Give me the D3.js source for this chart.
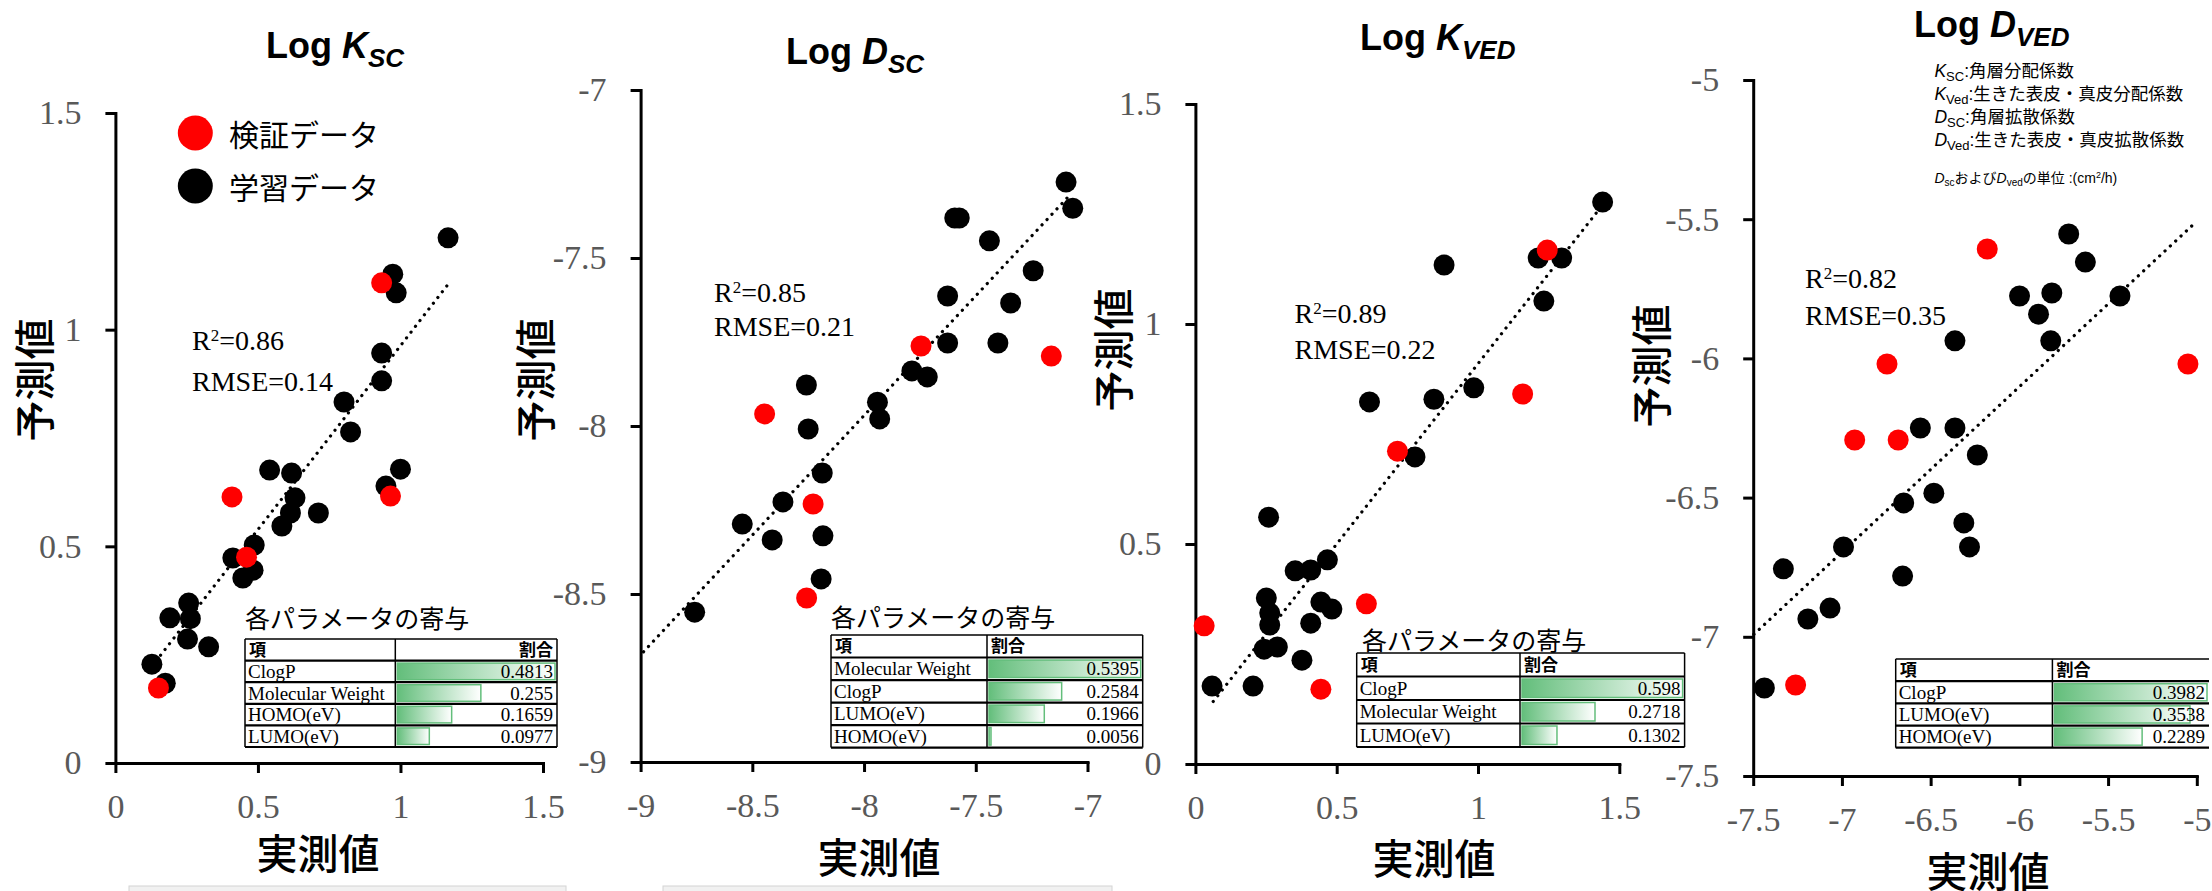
<!DOCTYPE html>
<html>
<head>
<meta charset="utf-8">
<script src="https://cdn.jsdelivr.net/npm/d3@7"></script>
<style>
  body { margin: 0; background: #fff; }
  svg { display: block; }
</style>
</head>
<body>
<div id="chart"></div>
<script>
// ---- data ----
// Log Ksc: [measured, predicted]
var kscTrain = [[1.167,1.212],[0.973,1.128],[0.985,1.085],[0.934,0.946],[0.934,0.882],[0.802,0.833],[0.825,0.764],
  [0.541,0.676],[0.618,0.669],[1.0,0.678],[0.949,0.639],[0.630,0.612],[0.614,0.577],[0.712,0.577],[0.584,0.547],
  [0.487,0.503],[0.412,0.473],[0.483,0.445],[0.447,0.427],[0.257,0.369],[0.191,0.335],[0.263,0.333],[0.253,0.286],
  [0.327,0.268],[0.128,0.228],[0.175,0.184]];
var kscTest = [[0.934,1.108],[0.965,0.616],[0.409,0.614],[0.460,0.475],[0.151,0.173]];
var kscTrend = [[0.127,0.222],[1.165,1.103]];
var kscStats = ["0.86","0.14"];
var kscNames = ["ClogP","Molecular Weight","HOMO(eV)","LUMO(eV)"];
var kscShares = [0.4813,0.255,0.1659,0.0977];

// Log Dsc
var dscTrain = [[-7.096,-7.274],[-7.066,-7.352],[-7.594,-7.381],[-7.574,-7.381],[-7.439,-7.449],[-7.243,-7.538],
  [-7.626,-7.613],[-7.344,-7.634],[-7.626,-7.753],[-7.401,-7.753],[-7.786,-7.836],[-7.717,-7.854],[-8.258,-7.878],
  [-7.940,-7.929],[-7.930,-7.979],[-8.250,-8.009],[-8.187,-8.140],[-8.363,-8.226],[-8.545,-8.292],[-8.411,-8.339],
  [-8.184,-8.327],[-8.192,-8.455],[-8.758,-8.554]];
var dscTest = [[-7.745,-7.762],[-7.162,-7.792],[-8.445,-7.964],[-8.228,-8.232],[-8.257,-8.512]];
var dscTrend = [[-8.987,-8.672],[-7.071,-7.307]];
var dscStats = ["0.85","0.21"];
var dscNames = ["Molecular Weight","ClogP","LUMO(eV)","HOMO(eV)"];
var dscShares = [0.5395,0.2584,0.1966,0.0056];

// Log Kved
var kvedTrain = [[1.441,1.277],[1.213,1.150],[1.296,1.150],[0.880,1.134],[1.233,1.052],[0.985,0.855],[0.844,0.829],
  [0.616,0.823],[0.777,0.698],[0.259,0.561],[0.467,0.464],[0.353,0.439],[0.408,0.441],[0.251,0.377],[0.444,0.368],
  [0.483,0.352],[0.263,0.343],[0.263,0.316],[0.408,0.320],[0.290,0.266],[0.243,0.261],[0.377,0.236],[0.059,0.177],
  [0.204,0.177]];
var kvedTest = [[1.245,1.168],[1.158,0.841],[0.715,0.711],[0.605,0.364],[0.031,0.314],[0.444,0.170]];
var kvedTrend = [[0.063,0.142],[1.418,1.252]];
var kvedStats = ["0.89","0.22"];
var kvedNames = ["ClogP","Molecular Weight","LUMO(eV)"];
var kvedShares = [0.598,0.2718,0.1302];

// Log Dved
var dvedTrain = [[-5.722,-5.553],[-5.628,-5.654],[-5.999,-5.776],[-5.817,-5.765],[-5.433,-5.776],[-5.892,-5.841],
  [-6.363,-5.937],[-5.823,-5.937],[-6.558,-6.250],[-6.363,-6.250],[-6.237,-6.347],[-6.482,-6.484],[-6.652,-6.519],
  [-6.313,-6.591],[-6.281,-6.677],[-6.991,-6.677],[-7.330,-6.756],[-6.658,-6.782],[-7.067,-6.897],[-7.192,-6.936],
  [-7.437,-7.184]];
var dvedTest = [[-6.181,-5.607],[-6.746,-6.020],[-5.050,-6.020],[-6.928,-6.293],[-6.683,-6.293],[-7.261,-7.173]];
var dvedTrend = [[-7.496,-6.991],[-5.006,-5.511]];
var dvedStats = ["0.82","0.35"];
var dvedNames = ["ClogP","LUMO(eV)","HOMO(eV)"];
var dvedShares = [0.3982,0.3538,0.2289];

var kTicks = [0, 0.5, 1, 1.5];
var dscTicks = [-9, -8.5, -8, -7.5, -7];
var dvedTicks = [-7.5, -7, -6.5, -6, -5.5, -5];

var legendLabels = ["検証データ", "学習データ"];
var legendColors = ["#ff0000", "#000000"];

// ---- layout ----
var width = 2212, height = 891;
var SANS = "'Liberation Sans', Arial, 'Noto Sans CJK JP', sans-serif";
var CJK = "'Noto Sans CJK JP', 'Noto Sans CJK SC', sans-serif";
var SERIF = "'Liberation Serif', 'Times New Roman', serif";

var panels = [
  { train: kscTrain, test: kscTest, trend: kscTrend, ticks: kTicks, stats: kscStats, names: kscNames, shares: kscShares,
    xr: [115.4, 543], yr: [763, 113], sym: "K", sub: "SC", title: [266, 58],
    r2: [192, 350, 391], xt: [318, 851], yt: [32, 380],
    table: { left: 245, split: 395.3, right: 557, top: 639, bottom: 747, title: [245, 617], headRight: true } },
  { train: dscTrain, test: dscTest, trend: dscTrend, ticks: dscTicks, stats: dscStats, names: dscNames, shares: dscShares,
    xr: [640.6, 1087.5], yr: [762, 90], sym: "D", sub: "SC", title: [786, 64],
    r2: [714, 302, 336], xt: [879, 855], yt: [533, 380],
    table: { left: 831, split: 987, right: 1142.7, top: 635, bottom: 747.6, title: [831, 616] } },
  { train: kvedTrain, test: kvedTest, trend: kvedTrend, ticks: kTicks, stats: kvedStats, names: kvedNames, shares: kvedShares,
    xr: [1195.4, 1619.3], yr: [764, 104], sym: "K", sub: "VED", title: [1360, 50],
    r2: [1294.5, 323, 359], xt: [1434, 856], yt: [1111, 350],
    table: { left: 1356.7, split: 1520, right: 1684.6, top: 653, bottom: 747, title: [1362, 639] } },
  { train: dvedTrain, test: dvedTest, trend: dvedTrend, ticks: dvedTicks, stats: dvedStats, names: dvedNames, shares: dvedShares,
    xr: [1753.2, 2196.8], yr: [776, 80], sym: "D", sub: "VED", title: [1914, 37],
    r2: [1805, 288, 325], xt: [1988, 869], yt: [1649, 366],
    table: { left: 1895.7, split: 2052.4, right: 2209, top: 659, bottom: 747.7, noRight: true } }
];

var svg = d3.select("#chart").append("svg")
  .attr("width", width)
  .attr("height", height)
  .style("background", "#fff");

var grad = svg.append("defs").append("linearGradient").attr("id", "bar");
grad.append("stop").attr("offset", "0%").attr("stop-color", "#63be7b");
grad.append("stop").attr("offset", "100%").attr("stop-color", "#ffffff");

// faint strips along the bottom edge of the page
[[129, 566], [663, 1112]].forEach(function (s) {
  svg.append("rect").attr("x", s[0]).attr("y", 886).attr("width", s[1] - s[0]).attr("height", 6)
    .attr("fill", "#f1f1f1").attr("stroke", "#d4d4d4").attr("stroke-width", 1);
});

panels.forEach(function (p) {
  var dom = d3.extent(p.ticks);
  var x = d3.scaleLinear().domain(dom).range(p.xr);
  var y = d3.scaleLinear().domain(dom).range(p.yr);
  var g = svg.append("g");

  var xAxis = g.append("g")
    .attr("transform", "translate(0," + p.yr[0] + ")")
    .call(d3.axisBottom(x).tickValues(p.ticks).tickSize(10).tickSizeOuter(0).tickPadding(21).tickFormat(String));
  var yAxis = g.append("g")
    .attr("transform", "translate(" + p.xr[0] + ",0)")
    .call(d3.axisLeft(y).tickValues(p.ticks).tickSize(10).tickSizeOuter(0).tickPadding(24).tickFormat(String));

  [xAxis, yAxis].forEach(function (a) {
    a.select(".domain").attr("stroke", "#000").attr("stroke-width", 3).attr("stroke-linecap", "square");
    a.selectAll(".tick line").attr("stroke", "#000").attr("stroke-width", 3);
    a.selectAll(".tick text").attr("fill", "#595959").style("font-family", SERIF).style("font-size", "34px");
  });

  // dotted trend line
  g.append("path")
    .datum(p.trend)
    .attr("d", d3.line().x(function (d) { return x(d[0]); }).y(function (d) { return y(d[1]); }))
    .attr("fill", "none")
    .attr("stroke", "#000")
    .attr("stroke-width", 3.2)
    .attr("stroke-linecap", "round")
    .attr("stroke-dasharray", "0.1,7.2");

  g.selectAll(".train").data(p.train).enter().append("circle")
    .attr("cx", function (d) { return x(d[0]); })
    .attr("cy", function (d) { return y(d[1]); })
    .attr("r", 10.5)
    .attr("fill", "#000");
  g.selectAll(".test").data(p.test).enter().append("circle")
    .attr("cx", function (d) { return x(d[0]); })
    .attr("cy", function (d) { return y(d[1]); })
    .attr("r", 10.5)
    .attr("fill", "#ff0000");

  // title
  var t = g.append("text").attr("x", p.title[0]).attr("y", p.title[1])
    .style("font-family", SANS).style("font-weight", "bold").style("font-size", "36px").attr("fill", "#000");
  t.append("tspan").text("Log ");
  t.append("tspan").style("font-style", "italic").text(p.sym);
  t.append("tspan").style("font-style", "italic").style("font-size", "26px").attr("dy", 9).text(p.sub);

  // R2 / RMSE
  var r = g.append("text").attr("x", p.r2[0]).attr("y", p.r2[1])
    .style("font-family", SERIF).style("font-size", "28px").attr("fill", "#000");
  r.append("tspan").text("R");
  r.append("tspan").style("font-size", "17px").attr("dy", -9).text("2");
  r.append("tspan").attr("dy", 9).text("=" + p.stats[0]);
  g.append("text").attr("x", p.r2[0]).attr("y", p.r2[2])
    .style("font-family", SERIF).style("font-size", "28px").attr("fill", "#000")
    .text("RMSE=" + p.stats[1]);

  // axis titles
  g.append("text").attr("x", p.xt[0]).attr("y", p.xt[1])
    .attr("text-anchor", "middle").attr("dominant-baseline", "central")
    .style("font-family", CJK).style("font-size", "41px").style("font-weight", 500)
    .text("実測値");
  g.append("text")
    .attr("transform", "translate(" + p.yt[0] + "," + p.yt[1] + ") rotate(-90)")
    .attr("text-anchor", "middle").attr("dominant-baseline", "central")
    .style("font-family", CJK).style("font-size", "41px").style("font-weight", 500)
    .text("予測値");

  drawTable(g, p.table, p.names, p.shares);
});

function drawTable(g, tb, names, shares) {
  var rows = d3.scaleBand().domain(d3.range(names.length + 1)).range([tb.top, tb.bottom]);
  var bw = d3.scaleLinear().domain([0, d3.max(shares)]).range([0, tb.right - tb.split - 4]);
  var h = rows.bandwidth();

  if (tb.title) {
    g.append("text").attr("x", tb.title[0]).attr("y", tb.title[1])
      .attr("dominant-baseline", "central")
      .style("font-family", CJK).style("font-size", "25px")
      .text("各パラメータの寄与");
  }

  g.append("rect").attr("x", tb.left).attr("y", tb.top).attr("width", tb.right - tb.left).attr("height", tb.bottom - tb.top)
    .attr("fill", "#fff");

  // header
  g.append("text").attr("x", tb.left + 4).attr("y", rows(0) + h / 2 + 6)
    .style("font-family", CJK).style("font-size", "17px").style("font-weight", "bold").text("項");
  g.append("text").attr("x", tb.headRight ? tb.right - 4 : tb.split + 4).attr("y", rows(0) + h / 2 + 6)
    .attr("text-anchor", tb.headRight ? "end" : "start")
    .style("font-family", CJK).style("font-size", "17px").style("font-weight", "bold").text("割合");

  var row = g.selectAll(".row").data(names).enter().append("g");
  row.append("rect")
    .attr("x", tb.split + 2)
    .attr("y", function (d, i) { return rows(i + 1) + 2.5; })
    .attr("width", function (d, i) { return Math.max(bw(shares[i]), 2); })
    .attr("height", h - 5)
    .attr("fill", "url(#bar)")
    .attr("stroke", "#63be7b")
    .attr("stroke-width", 1.5);
  row.append("text")
    .attr("x", tb.left + 3)
    .attr("y", function (d, i) { return rows(i + 1) + h / 2 + 6.5; })
    .style("font-family", SERIF).style("font-size", "19px")
    .text(function (d) { return d; });
  row.append("text")
    .attr("x", tb.right - 4)
    .attr("y", function (d, i) { return rows(i + 1) + h / 2 + 6.5; })
    .attr("text-anchor", "end")
    .style("font-family", SERIF).style("font-size", "19px")
    .text(function (d, i) { return String(shares[i]); });

  // grid lines
  d3.range(names.length + 2).forEach(function (i) {
    var yy = i <= names.length ? rows(i) : tb.bottom;
    g.append("line").attr("x1", tb.left).attr("x2", tb.right).attr("y1", yy).attr("y2", yy)
      .attr("stroke", "#000").attr("stroke-width", i === 0 ? 1.5 : 2.2);
  });
  var vx = tb.noRight ? [tb.left, tb.split] : [tb.left, tb.split, tb.right];
  vx.forEach(function (xx) {
    g.append("line").attr("x1", xx).attr("x2", xx).attr("y1", tb.top).attr("y2", tb.bottom)
      .attr("stroke", "#000").attr("stroke-width", 1.5);
  });
}

// legend (first panel)
var leg = svg.append("g");
leg.selectAll("circle").data(legendLabels).enter().append("circle")
  .attr("cx", 195.3)
  .attr("cy", function (d, i) { return 133 + i * 53; })
  .attr("r", 17.5)
  .attr("fill", function (d, i) { return legendColors[i]; });
leg.selectAll("text").data(legendLabels).enter().append("text")
  .attr("x", 229)
  .attr("y", function (d, i) { return 133 + i * 53; })
  .attr("dominant-baseline", "central")
  .style("font-family", CJK).style("font-size", "30px")
  .text(function (d) { return d; });

// symbol notes (last panel)
var notes = [
  ["K", "SC", ":角層分配係数"],
  ["K", "Ved", ":生きた表皮・真皮分配係数"],
  ["D", "SC", ":角層拡散係数"],
  ["D", "Ved", ":生きた表皮・真皮拡散係数"]
];
var nt = svg.append("g").style("font-family", SANS).style("font-size", "17.5px");
notes.forEach(function (n, i) {
  var tx = nt.append("text").attr("x", 1934.4).attr("y", 77 + i * 23);
  tx.append("tspan").style("font-style", "italic").text(n[0]);
  tx.append("tspan").style("font-size", "13px").attr("dy", 4).text(n[1]);
  tx.append("tspan").attr("dy", -4).text(n[2]);
});
var u = nt.append("text").attr("x", 1934.4).attr("y", 183).style("font-size", "14px");
u.append("tspan").style("font-style", "italic").text("D");
u.append("tspan").style("font-size", "10px").attr("dy", 3).text("sc");
u.append("tspan").attr("dy", -3).text("および");
u.append("tspan").style("font-style", "italic").text("D");
u.append("tspan").style("font-size", "10px").attr("dy", 3).text("ved");
u.append("tspan").attr("dy", -3).text("の単位 :(cm");
u.append("tspan").style("font-size", "9px").attr("dy", -5).text("2");
u.append("tspan").attr("dy", 5).text("/h)");
</script>
</body>
</html>
